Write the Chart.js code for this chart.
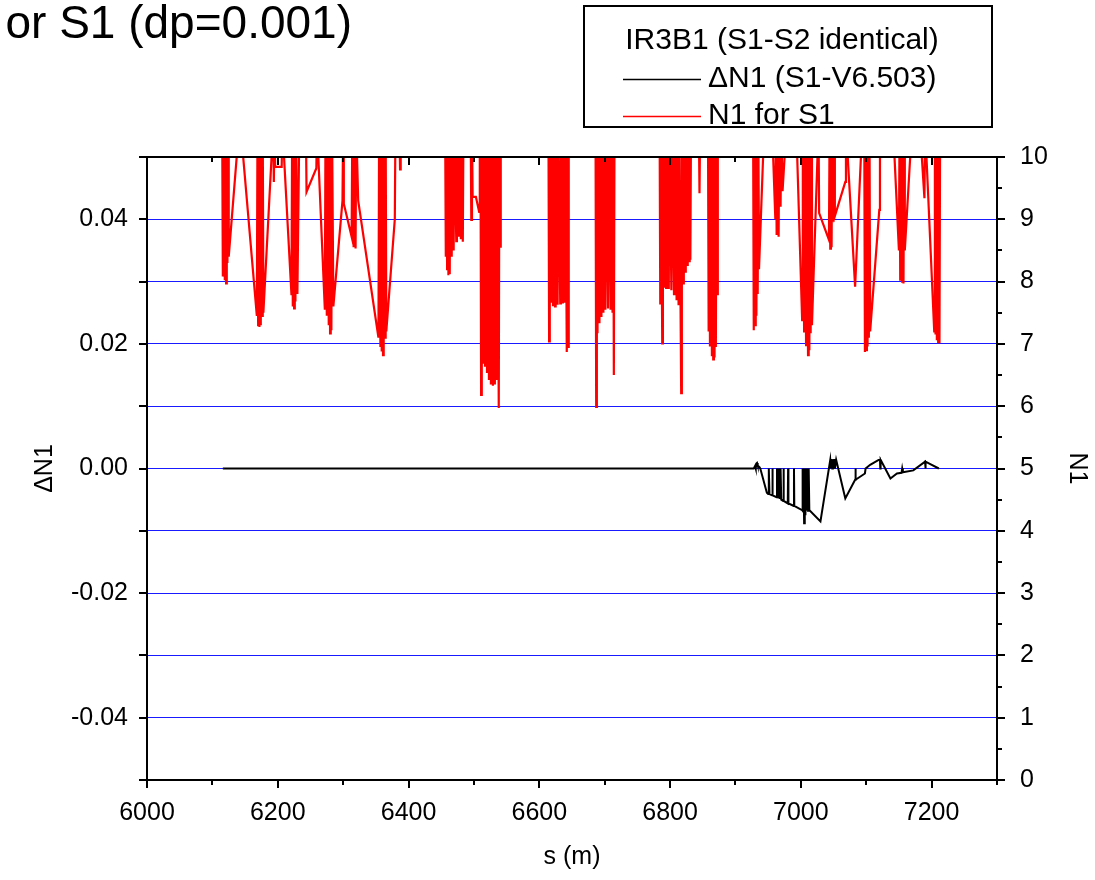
<!DOCTYPE html>
<html>
<head>
<meta charset="utf-8">
<script src="https://cdn.jsdelivr.net/npm/chart.js@4.4.0/dist/chart.umd.min.js"></script>
<style>
  html, body { margin: 0; padding: 0; background: #fff; }
</style>
</head>
<body>
<canvas id="chart" width="1095" height="880"></canvas>
<script>
const FONT = "'Liberation Sans', Arial, sans-serif";

// N1 for S1 (right axis); 10.5 = off the top of the plot
const n1S = [
  6115, 6116, 6118, 6119, 6120, 6121, 6122, 6123, 6124, 6125, 6141,
  6143, 6168, 6169, 6170, 6171, 6172, 6173, 6174, 6175, 6176, 6177, 6178, 6193, 6194, 6195, 6196, 6206, 6207,
  6221, 6222, 6223, 6224, 6225, 6226, 6227, 6228, 6230, 6233,
  6243, 6244, 6259, 6260,
  6261, 6272, 6273, 6275, 6276, 6278, 6279, 6280, 6281, 6282, 6283, 6285, 6299, 6300, 6301, 6313, 6314, 6316, 6317, 6319, 6320, 6323,
  6354, 6355, 6357, 6358, 6359, 6360, 6361, 6362, 6364, 6365, 6366, 6379, 6380, 6386, 6387, 6388,
  6456, 6457, 6458, 6459, 6460, 6461, 6462, 6463, 6464, 6466, 6467, 6469, 6470, 6473, 6474, 6477, 6478, 6480, 6481, 6483, 6484,
  6495, 6496, 6497, 6498, 6503, 6508, 6509,
  6510, 6511, 6512, 6514, 6515, 6517, 6518, 6520, 6521, 6523, 6524, 6526, 6527, 6529, 6530, 6532, 6533, 6535, 6536, 6538, 6539, 6540, 6541,
  6614, 6615, 6616, 6618, 6619, 6621, 6622, 6624, 6625, 6628, 6629, 6632, 6633, 6636, 6637, 6639, 6640, 6642, 6643, 6644, 6645,
  6686, 6687, 6688, 6689, 6690, 6692, 6693, 6695, 6696, 6698, 6699, 6701, 6702, 6705, 6706, 6709, 6710, 6712, 6713, 6714, 6715,
  6784, 6785, 6786, 6788, 6789, 6791, 6792, 6794, 6795, 6798, 6799, 6802, 6803, 6806, 6807, 6810, 6811, 6813, 6814, 6817, 6818, 6820, 6821, 6823, 6824, 6826, 6827, 6829, 6830, 6831, 6832,
  6844, 6845, 6846,
  6858, 6859, 6860, 6861, 6862, 6864, 6865, 6866, 6867, 6868, 6869, 6870, 6871, 6872, 6873,
  6927, 6928, 6929, 6930, 6931, 6932, 6933, 6934, 6935, 6936, 6944,
  6956, 6961, 6962, 6963, 6964, 6966, 6967, 6969, 6970, 6972, 6978,
  6993, 7002, 7003, 7005, 7006, 7008, 7009, 7011, 7012, 7013, 7014, 7015, 7016, 7017, 7027, 7028,
  7043, 7044, 7045, 7046, 7047, 7048, 7050, 7051, 7052, 7068, 7069,
  7083, 7094,
  7097, 7098, 7099, 7100, 7101, 7102, 7103, 7104, 7105, 7106, 7120, 7121,
  7141, 7150, 7151, 7152, 7153, 7155, 7156, 7157, 7158, 7159, 7170,
  7182, 7189, 7190, 7204, 7205, 7206, 7207, 7208, 7209, 7210, 7211, 7212, 7213
];
const n1V = [
  10.5, 8.08, 10.5, 8.02, 10.5, 7.97, 10.5, 8.3, 10.5, 8.4, 10.5,
  10.5, 7.45, 10.5, 7.3, 10.5, 7.27, 10.5, 7.3, 10.5, 7.45, 10.5, 7.5, 10.5, 9.6, 10.5, 9.84, 9.84, 10.5,
  7.78, 10.5, 7.6, 10.5, 7.57, 10.5, 7.68, 10.5, 7.8, 10.5,
  10.5, 9.44, 9.82, 10.5,
  10.5, 7.55, 10.5, 7.45, 10.5, 7.3, 10.5, 7.17, 10.5, 7.22, 10.5, 7.6, 9.3, 10.5, 9.25, 8.72, 10.5, 8.55, 10.5, 8.53, 10.5, 9.3,
  7.1, 10.5, 6.95, 10.5, 6.88, 10.5, 6.82, 10.5, 7.1, 10.5, 7.2, 9.0, 10.5, 10.5, 9.8, 10.5,
  10.5, 8.4, 10.5, 8.2, 10.5, 8.1, 10.5, 8.12, 10.5, 8.4, 10.5, 8.5, 10.5, 8.65, 10.5, 8.72, 10.5, 8.68, 10.5, 8.64, 10.5,
  10.5, 8.99, 10.5, 9.36, 9.36, 9.12, 10.5,
  10.5, 6.18, 10.5, 6.7, 10.5, 6.65, 10.5, 6.55, 10.5, 6.42, 10.5, 6.35, 10.5, 6.33, 10.5, 6.35, 10.5, 6.42, 10.5, 5.97, 10.5, 8.56, 10.5,
  10.5, 7.04, 10.5, 7.68, 10.5, 7.62, 10.5, 7.6, 10.5, 7.63, 10.5, 7.65, 10.5, 7.65, 10.5, 7.66, 10.5, 6.87, 10.5, 6.95, 10.5,
  10.5, 5.99, 10.5, 7.17, 10.5, 7.33, 10.5, 7.43, 10.5, 7.5, 10.5, 7.55, 10.5, 7.57, 10.5, 7.55, 10.5, 7.5, 10.5, 6.5, 10.5,
  10.5, 7.65, 10.5, 7.01, 10.5, 7.92, 10.5, 7.9, 10.5, 7.88, 10.5, 7.86, 10.5, 7.8, 10.5, 7.7, 10.5, 7.62, 10.5, 6.21, 10.5, 7.97, 10.5, 8.16, 10.5, 8.27, 10.5, 8.33, 10.5, 8.35, 10.5,
  10.5, 9.42, 10.5,
  10.5, 7.2, 10.5, 6.96, 10.5, 6.8, 10.5, 6.75, 10.5, 6.78, 10.5, 6.95, 10.5, 7.8, 10.5,
  10.5, 7.22, 10.5, 7.3, 10.5, 7.45, 10.5, 7.8, 10.5, 8.2, 10.5,
  10.5, 9.0, 10.5, 8.75, 10.5, 8.72, 10.5, 9.2, 10.5, 9.45, 10.5,
  10.5, 7.38, 10.5, 7.2, 10.5, 6.98, 10.5, 6.82, 10.5, 6.9, 10.5, 7.17, 10.5, 7.3, 10.5, 9.1,
  8.67, 10.5, 8.53, 10.5, 8.55, 10.5, 8.96, 10.5, 9.05, 9.6, 10.5,
  7.92, 10.5,
  10.5, 6.87, 10.5, 6.9, 10.5, 6.96, 10.5, 7.1, 10.5, 7.2, 9.15, 10.5,
  10.5, 8.5, 10.5, 8.03, 10.5, 8.0, 10.5, 7.97, 10.5, 8.5, 10.5,
  10.5, 9.34, 10.5, 7.2, 10.5, 7.15, 10.5, 7.06, 10.5, 7.03, 10.5, 7.01, 10.5
];

// dN1 (S1-V6.503) (left axis)
const dn1S = [
  6116, 6928, 6930, 6931, 6932, 6933, 6934, 6937, 6938,
  6948, 6950, 6951, 6952, 6956, 6956.5, 6957, 6963, 6963.5, 6964, 6965, 6966, 6967, 6968, 6969, 6970,
  6973, 6973.5, 6974, 6980, 6980.5, 6981, 6987, 6989, 6989.5, 6990,
  7002, 7002.5, 7003, 7004, 7005, 7006, 7007, 7008, 7009, 7010, 7011, 7012, 7013, 7014, 7030,
  7045, 7046, 7047, 7048, 7049, 7050, 7051, 7052, 7054, 7068,
  7083, 7083.5, 7084, 7098, 7099, 7106, 7121, 7121.5, 7122, 7137, 7147, 7154, 7155, 7156, 7172,
  7190, 7190.5, 7191, 7198, 7211
];
const dn1V = [
  0, 0, 0.0004, 0, 0.0008, 0.0009, 0.0005, 0.0002, 0,
  -0.0039, -0.0041, 0, -0.0041, -0.0043, 0, -0.0043, -0.0046, 0, -0.0046, 0, -0.0048, 0, -0.0049, 0, -0.005,
  -0.0052, 0, -0.0052, -0.0056, 0, -0.0056, -0.0059, -0.006, 0, -0.006,
  -0.0067, 0, -0.0068, 0, -0.0088, 0, -0.0075, 0, -0.0068, 0, -0.0068, 0, -0.0068, -0.0068, -0.0085,
  0.0014, 0, 0.0015, 0, 0.0015, 0, 0.0015, 0, 0.0014, -0.0048,
  -0.0018, 0, -0.0018, -0.0008, 0, 0.0006, 0.0015, 0, 0.0014, -0.0016, -0.0008, -0.0007, 0, -0.0006, -0.0003,
  0.0011, 0, 0.0011, 0.0007, 0
];

const legendTitle = 'IR3B1 (S1-S2 identical)';
const chartTitle = 'or S1 (dp=0.001)';

const framePlugin = {
  id: 'frame',
  afterDatasetsDraw(chart) {
    const { ctx, chartArea: a, scales } = chart;
    ctx.save();
    ctx.strokeStyle = '#000';
    ctx.lineWidth = 2;
    ctx.beginPath();
    scales.x.ticks.forEach(t => {
      const px = Math.round(scales.x.getPixelForValue(t.value));
      const len = t.value % 200 === 0 ? 8 : 5;
      ctx.moveTo(px, a.bottom); ctx.lineTo(px, a.bottom + len);
      ctx.moveTo(px, a.top); ctx.lineTo(px, a.top + len);
    });
    scales.y.ticks.forEach(t => {
      const py = Math.round(scales.y.getPixelForValue(t.value));
      ctx.moveTo(a.left, py); ctx.lineTo(a.left - 8, py);
    });
    scales.yR.ticks.forEach(t => {
      const py = Math.round(scales.yR.getPixelForValue(t.value));
      const len = Number.isInteger(t.value) ? 8 : 5;
      ctx.moveTo(a.right, py); ctx.lineTo(a.right + len, py);
    });
    ctx.stroke();
    ctx.strokeRect(a.left, a.top, a.right - a.left, a.bottom - a.top);
    ctx.restore();
  },
  afterDraw(chart) {
    const { ctx } = chart;
    ctx.save();
    // title, cut at the left edge
    ctx.fillStyle = '#000';
    ctx.font = '46px ' + FONT;
    ctx.textAlign = 'right';
    ctx.textBaseline = 'alphabetic';
    ctx.fillText(chartTitle, 352, 38);

    // legend box
    ctx.strokeStyle = '#000';
    ctx.lineWidth = 2;
    ctx.strokeRect(584, 6, 408, 121);
    ctx.font = '30px ' + FONT;
    ctx.textBaseline = 'middle';
    ctx.textAlign = 'center';
    ctx.fillText(legendTitle, 782, 41);
    ctx.textAlign = 'left';
    chart.data.datasets.forEach((ds, i) => {
      const y = 79 + i * 37;
      ctx.strokeStyle = ds.borderColor;
      ctx.lineWidth = 1.5;
      ctx.beginPath();
      ctx.moveTo(623, y + 0.5); ctx.lineTo(701, y + 0.5);
      ctx.stroke();
      ctx.fillText(ds.label, 708, y);
    });
    ctx.restore();
  }
};

const tickFont = { family: FONT, size: 25 };

new Chart(document.getElementById('chart'), {
  type: 'line',
  data: {
    datasets: [
      {
        label: '\u0394N1 (S1-V6.503)',
        data: dn1S.map((s, i) => ({ x: s, y: dn1V[i] })),
        yAxisID: 'y',
        borderColor: '#000000',
        borderWidth: 2,
        pointRadius: 0,
        tension: 0
      },
      {
        label: 'N1 for S1',
        data: n1S.map((s, i) => ({ x: s, y: n1V[i] })),
        yAxisID: 'yR',
        borderColor: '#ff0000',
        borderWidth: 2.2,
        pointRadius: 0,
        tension: 0,
        clip: 0
      }
    ]
  },
  options: {
    responsive: false,
    animation: false,
    events: [],
    layout: { padding: { top: 157, left: 0, right: 0, bottom: 0 } },
    plugins: { legend: { display: false }, tooltip: { enabled: false } },
    scales: {
      x: {
        type: 'linear', position: 'bottom', min: 6000, max: 7300,
        afterFit: s => { s.height = 100; },
        grid: { drawOnChartArea: false, drawTicks: false },
        border: { display: false },
        ticks: {
          stepSize: 100, autoSkip: false, maxRotation: 0, padding: 18,
          font: tickFont, color: '#000',
          callback: v => (v % 200 === 0 ? String(v) : '')
        },
        title: { display: true, text: 's (m)', font: tickFont, color: '#000', padding: { top: 0, bottom: 8 } }
      },
      y: {
        position: 'left', min: -0.05, max: 0.05,
        afterFit: s => { s.width = 147; },
        grid: {
          drawTicks: false, lineWidth: 1,
          color: c => (Math.abs(Math.round(c.tick.value * 100)) === 5 ? 'rgba(0,0,0,0)' : '#1a1aff')
        },
        border: { display: false },
        ticks: {
          stepSize: 0.01, autoSkip: false, padding: 19,
          font: tickFont, color: '#000',
          callback: v => {
            const k = Math.round(v * 100);
            return k % 2 === 0 ? (k / 100).toFixed(2) : '';
          }
        },
        title: { display: true, text: '\u0394N1', font: tickFont, color: '#000', padding: { top: 30, bottom: 0 } }
      },
      yR: {
        position: 'right', min: 0, max: 10,
        afterFit: s => { s.width = 98; },
        grid: { drawOnChartArea: false, drawTicks: false },
        border: { display: false },
        ticks: {
          stepSize: 0.5, autoSkip: false, padding: 23,
          font: tickFont, color: '#000',
          callback: v => (Number.isInteger(v) ? String(v) : '')
        },
        title: { display: true, text: 'N1', font: tickFont, color: '#000', padding: { top: 3, bottom: 0 } }
      }
    }
  },
  plugins: [framePlugin]
});
</script>
</body>
</html>
